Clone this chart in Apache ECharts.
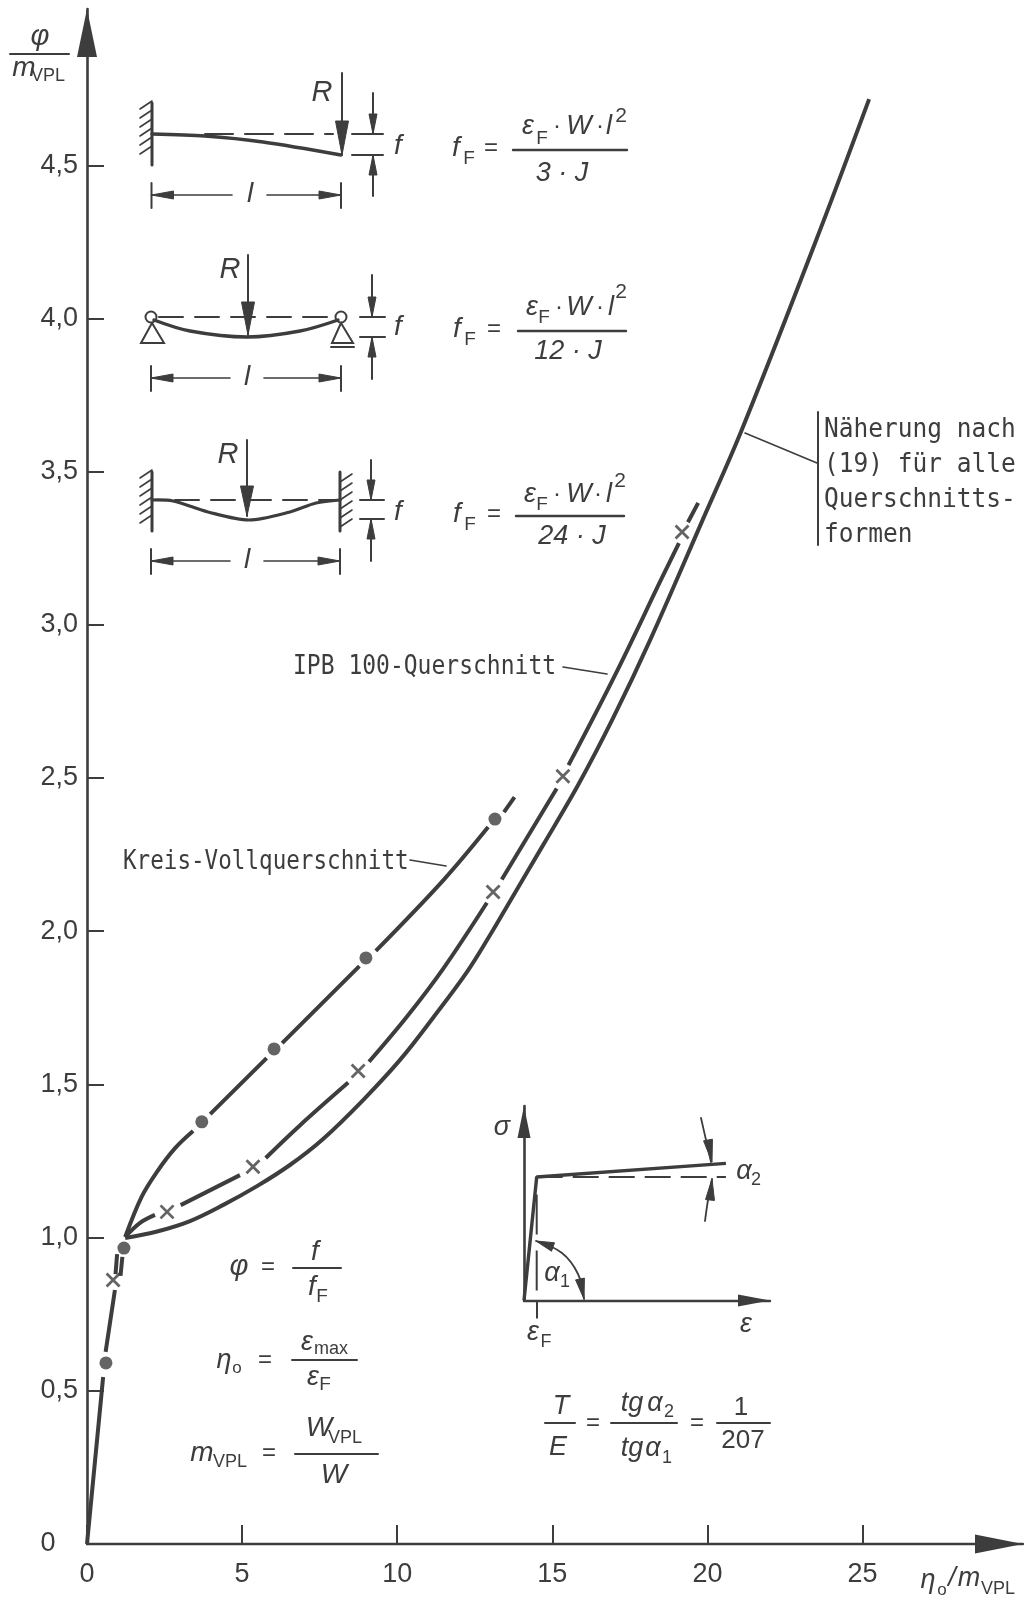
<!DOCTYPE html>
<html><head><meta charset="utf-8">
<style>html,body{margin:0;padding:0;background:#fff}#c{width:1024px;height:1600px}</style>
<script src="https://cdn.jsdelivr.net/npm/echarts@6/dist/echarts.min.js"></script>
</head><body><div id="c"></div>
<script>
// ---- data (eta/m_VPL, phi/m_VPL); null = gap in the drawn line ----
const xTicks = [0,5,10,15,20,25];
const yTicks = [0,0.5,1,1.5,2,2.5,3,3.5,4,4.5];
const naeherungCurve = [[0,0],[0.52,0.545],null,[0.60,0.627],[0.90,0.829],null,[1.08,0.875],[1.14,0.937],null,
 [1.23,0.999],[2.26,1.020],[3.32,1.054],[4.38,1.106],[5.48,1.168],[6.54,1.237],[7.61,1.322],[8.90,1.449],[10.09,1.580],
 [11.15,1.717],[12.25,1.867],[13.09,2.004],[13.64,2.099],[14.70,2.281],[15.83,2.477],[16.96,2.696],[18.15,2.950],
 [19.80,3.332],[21.12,3.640],[23.63,4.289],[25.21,4.716]];
const ipbCurve = [[0.92,0.881],[0.97,0.946],null,[1.23,1.002],[1.71,1.048],[2.19,1.074],null,[3.02,1.106],[4.93,1.204],null,
 [5.76,1.26],[6.87,1.367],[8.42,1.506],null,[9.09,1.574],[10.31,1.721],[11.49,1.879],[12.89,2.093],null,[13.37,2.169],[15.14,2.466],null,
 [15.52,2.542],[17.02,2.836],[18.53,3.153],[19.08,3.267],null,[19.37,3.335],[19.70,3.398]];
const kreisCurve = [[1.23,1.002],[1.76,1.133],[2.25,1.214],[2.84,1.292],[3.42,1.348],null,[3.97,1.403],[5.79,1.586],null,
 [6.29,1.635],[8.78,1.886],null,[9.31,1.936],[11.49,2.167],[12.93,2.34],null,[13.44,2.389],[13.78,2.438]];
const ipbPoints = [[0.84,0.862],[2.58,1.084],[5.35,1.231],[8.74,1.544],[13.09,2.128],[15.34,2.506],[19.18,3.303]];
const kreisPoints = [[0.61,0.591],[1.19,0.966],[3.70,1.378],[6.03,1.616],[8.99,1.913],[13.15,2.366]];
// inset: stress-strain (strain/eps_F, sigma/sigma_F)
const insetCurve = [[0,0],[1,1],[15.9,1.11]];
const insetYield = [[1,1],[15.9,1]];
const insetStrainF = [[1,0.08],[1,1]];

const INK = '#3d3d3d', ax = v => v===null ? ['-','-'] : v;
const TXT = '"Liberation Sans",sans-serif';
const MONO = '"DejaVu Sans Mono",monospace';
const MATH = '"Liberation Sans",sans-serif';
const g = [];
function line(pts,w=2,opt={}){g.push({type:'polyline',silent:true,shape:{points:pts,smooth:opt.smooth||0},style:{stroke:INK,lineWidth:w,fill:null,lineDash:opt.dash||null,lineCap:'round'}});}
function head(tx,ty,bx,by,wd){const dx=bx-tx,dy=by-ty,L=Math.hypot(dx,dy),nx=-dy/L*wd/2,ny=dx/L*wd/2;
 g.push({type:'polygon',silent:true,shape:{points:[[tx,ty],[bx+nx,by+ny],[bx-nx,by-ny]]},style:{fill:INK,stroke:INK,lineWidth:1}});}
function arrow(fx,fy,tx,ty,hl,wd,w=2){line([[fx,fy],[tx,ty]],w);const L=Math.hypot(fx-tx,fy-ty);head(tx,ty,tx+(fx-tx)/L*hl,ty+(fy-ty)/L*hl,wd);}
function t(x,y,s,size=26,opt={}){g.push({type:'text',silent:true,x,y,scaleY:opt.sy||1,style:{text:s,fill:INK,align:opt.align||'center',verticalAlign:'middle',
 font:(opt.italic?'italic ':'')+size+'px '+(opt.font||MATH)}});}
const it=(x,y,s,size=27)=>t(x,y,s,size,{italic:true});
const sub=(x,y,s,size=19)=>t(x,y,s,size,{font:MATH});
function hatch(x,y0,y1,dir){for(let y=y0+6;y<=y1+2;y+=9){line([[x,y],[x+dir*12,y+(dir<0?8:-8)]],1.6);}}
function dim(y,x0,x1,ga,gb,y0,y1,lx){line([[x0,y0],[x0,y1]],2);line([[x1,y0],[x1,y1]],2);
 arrow(ga,y,x0,y,22,8,1.6);arrow(gb,y,x1,y,22,8,1.6);it(lx,y-1,'l',28);}
function fArrows(x,top,yu,yl,bot,xa,xb,fy){arrow(x,top,x,yu,20,8);arrow(x,bot,x,yl,20,8);line([[xa,yu],[xb,yu]]);line([[xa,yl],[xb,yl]]);it(398,fy,'f',28);}
function formula(fx,eqx,ly,x0,x1,ny,dc,dn,dy,pe,pf,pd1,pw,pd2,pl,p2,fyF,sy){
 it(fx,ly-2,'f',28);sub(fx+13,ly+9,'F');t(eqx,ly-2,'=',24);line([[x0,ly],[x1,ly]],2.4);
 it(pe,ny,'ε',27);sub(pf,fyF,'F');t(pd1,ny,'·',24);it(pw,ny,'W',27);t(pd2,ny,'·',24);it(pl,ny,'l',27);t(p2,sy,'2',21);
 it(dc,dy,dn,27);}

// y axis title
it(40,37,'φ',29);line([[10,54],[69,54]],2);it(24,68,'m',28);t(48,76,'VPL',18,{font:MATH});
// x axis title
it(928,1580,'η',27);sub(942,1590,'o',17);it(952,1578,'/',27);it(969,1578,'m',27);t(998,1589,'VPL',18,{font:MATH});

// beam 1: cantilever
line([[152,103],[152,165]],3);hatch(140,103,160,1);
line([[152,134],[205,136],[263,142],[341,155]],3.4,{smooth:.3});
line([[205,134],[333,134]],2,{dash:[28,12]});
arrow(342,73,342,155,34,13);it(322,93,'R',29);
fArrows(373,93,134,155,196,352,383,146);
dim(195,151.5,341,232,267,183,208,250);
formula(456,491,150,513,627,126,562,'3 · J',173,528,542,557,579,600,609,621,139,116);

// beam 2: simply supported
g.push({type:'circle',silent:true,shape:{cx:151,cy:317,r:5.5},style:{stroke:INK,lineWidth:2,fill:'#fff'}});
g.push({type:'circle',silent:true,shape:{cx:341,cy:317,r:5.5},style:{stroke:INK,lineWidth:2,fill:'#fff'}});
line([[152,323],[141,343],[164,343],[152,323]],2);line([[341,323],[332,343],[353,343],[341,323]],2);line([[331,347],[354,347]],2);
line([[154,320],[190,331],[247,337],[300,331],[338,320]],3.4,{smooth:.35});
line([[159,317],[334,317]],2,{dash:[24,12]});
arrow(248,255,248,335,33,13);it(230,270,'R',29);
fArrows(372,275,317,337,379,360,385,327);
dim(378,151,341,230,264,366,391,247);
formula(457,494,331,518,626,307,568,'12 · J',351,532,544,559,579,600,611,621,318,292);

// beam 3: fixed-fixed
line([[152,472],[152,531]],3);hatch(140,472,527,1);line([[340,472],[340,531]],3);hatch(340,476,533,1);
line([[152,500],[173,501],[208,512],[249,520],[290,512],[316,503],[340,500]],3.2,{smooth:.3});
line([[175,500],[335,500]],2,{dash:[24,12]});
arrow(247,440,247,516,30,13);it(228,455,'R',29);
fArrows(371,460,500,519,561,360,384,512);
dim(561,151,340,230,264,549,574,247);
formula(457,494,516,516,624,494,572,'24 · J',536,530,542,557,579,598,609,620,505,481);

// leaders + labels
line([[410,860],[446,866]],1.6);line([[563,667],[607,674]],1.6);line([[745,433],[817,463]],1.6);line([[818,412],[818,545]],2);
t(123,862,'Kreis-Vollquerschnitt',22.6,{align:'left',font:MONO,sy:1.18});
t(293,667,'IPB 100-Querschnitt',23,{align:'left',font:MONO,sy:1.18});
t(824,430,'Näherung nach',24.5,{align:'left',font:MONO,sy:1.12});
t(824,465,'(19) für alle',24.5,{align:'left',font:MONO,sy:1.12});
t(824,500,'Querschnitts-',24.5,{align:'left',font:MONO,sy:1.12});
t(824,535,'formen',24.5,{align:'left',font:MONO,sy:1.12});

// definitions, lower left
it(239,1267,'φ',29);t(268,1267,'=',24);line([[293,1268],[341,1268]],2);it(315,1252,'f',28);it(312,1287,'f',28);sub(322,1297,'F');
it(224,1360,'η',27);sub(237,1368,'o',17);t(265,1360,'=',24);line([[292,1360],[357,1360]],2);it(307,1342,'ε',27);t(331,1349,'max',18,{font:MATH});it(313,1377,'ε',27);sub(325,1385,'F');
it(202,1453,'m',28);t(230,1462,'VPL',18,{font:MATH});t(269,1453,'=',24);line([[295,1454],[378,1454]],2);it(319,1428,'W',28);t(345,1438,'VPL',18,{font:MATH});it(334,1475,'W',28);

// inset annotations
it(502,1127,'σ',27);it(744,1171,'α',27);sub(756,1180,'2',18);it(552,1273,'α',27);sub(565,1282,'1',18);it(746,1324,'ε',27);it(533,1332,'ε',27);sub(546,1342,'F',18);
line([[701,1118],[706,1140],[711,1162]],1.8,{smooth:.4});head(712,1162,708,1140,9);
line([[705,1221],[708,1200],[712,1179]],1.8,{smooth:.4});head(712,1179,710,1200,9);
line([[536,1241],[562,1253],[578,1274],[584,1299]],1.8,{smooth:.4});head(536,1241,553,1247,9);head(584,1299,580,1279,9);

// T/E formula
it(561,1406,'T',27);line([[545,1423],[575,1423]],2);it(558,1447,'E',27);t(593,1423,'=',24);
it(632,1403,'tg',27);it(655,1403,'α',27);sub(669,1412,'2',18);line([[611,1423],[677,1423]],2);it(632,1448,'tg',27);it(653,1448,'α',27);sub(667,1458,'1',18);
t(697,1423,'=',24);t(741,1408,'1',26,{font:TXT});line([[717,1423],[770,1423]],2);t(743,1441,'207',26,{font:TXT});

const tri=(w,h)=>({symbol:['none','triangle'],symbolSize:[w,h],symbolOffset:[0,-h/2]});
const chart=echarts.init(document.getElementById('c'),null,{renderer:'canvas'});
chart.setOption({animation:false,backgroundColor:'#fff',
 grid:[{left:87,top:9,width:936,height:1535},{left:524,top:1106,width:246,height:194.5}],
 xAxis:[
  {type:'value',gridIndex:0,min:0,max:30.17,interval:5,splitLine:{show:false},
   axisLine:{onZero:false,lineStyle:{color:INK,width:2.4},...tri(19,48)},
   axisTick:{inside:true,length:19,customValues:xTicks,lineStyle:{color:INK,width:2}},
   axisLabel:{customValues:xTicks,margin:17,color:INK,fontSize:27,fontFamily:TXT}},
  {type:'value',gridIndex:1,min:0,max:19.37,splitLine:{show:false},
   axisLine:{onZero:false,lineStyle:{color:INK,width:2.4},...tri(12,32)},
   axisTick:{length:18,customValues:[1],lineStyle:{color:INK,width:2}},axisLabel:{show:false}}],
 yAxis:[
  {type:'value',gridIndex:0,min:0,max:5.01,interval:0.5,splitLine:{show:false},
   axisLine:{onZero:false,lineStyle:{color:INK,width:2.6},...tri(20,48)},
   axisTick:{inside:true,length:17,customValues:yTicks.slice(1),lineStyle:{color:INK,width:2}},
   axisLabel:{customValues:yTicks,margin:9,color:INK,fontSize:27,fontFamily:TXT,
     formatter:v=>v===0?'0\u00a0\u00a0\u00a0':v.toFixed(1).replace('.',',')}},
  {type:'value',gridIndex:1,min:0,max:1.575,splitLine:{show:false},
   axisLine:{onZero:false,lineStyle:{color:INK,width:2.6},...tri(13,32)},axisTick:{show:false},axisLabel:{show:false}}],
 series:[
  {name:'Näherung',type:'line',smooth:.35,showSymbol:false,silent:true,lineStyle:{color:INK,width:4},data:naeherungCurve.map(ax)},
  {name:'IPB 100-Querschnitt',type:'line',smooth:.35,showSymbol:false,silent:true,lineStyle:{color:INK,width:4},data:ipbCurve.map(ax)},
  {name:'Kreis-Vollquerschnitt',type:'line',smooth:.35,showSymbol:false,silent:true,lineStyle:{color:INK,width:4},data:kreisCurve.map(ax)},
  {name:'IPB Messpunkte',type:'scatter',symbol:'path://M0,0L10,10M10,0L0,10',symbolSize:13,silent:true,itemStyle:{color:'none',borderColor:INK,borderWidth:2.8},data:ipbPoints},
  {name:'Kreis Messpunkte',type:'scatter',symbol:'circle',symbolSize:13,silent:true,itemStyle:{color:INK},data:kreisPoints},
  {name:'Werkstoff',type:'line',xAxisIndex:1,yAxisIndex:1,showSymbol:false,silent:true,lineStyle:{color:INK,width:3.4},data:insetCurve},
  {name:'Fließgrenze',type:'line',xAxisIndex:1,yAxisIndex:1,showSymbol:false,silent:true,lineStyle:{color:INK,width:2,type:[26,10]},data:insetYield},
  {name:'Fließdehnung',type:'line',xAxisIndex:1,yAxisIndex:1,showSymbol:false,silent:true,lineStyle:{color:INK,width:2,type:[40,16]},data:insetStrainF}
 ],
 graphic:g});
</script></body></html>
